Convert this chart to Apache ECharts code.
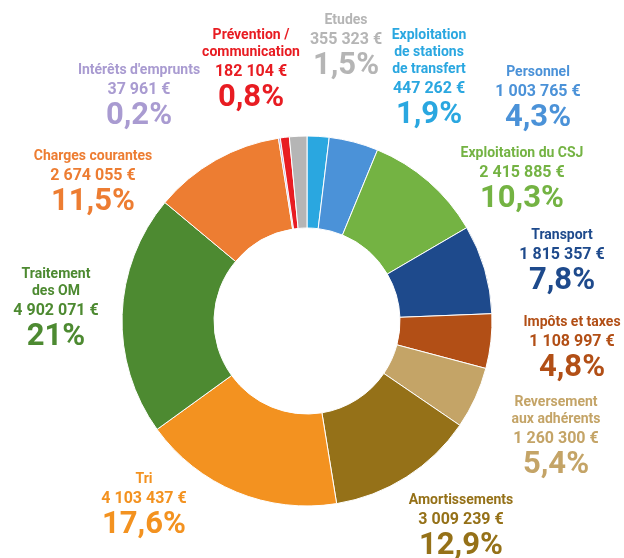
<!DOCTYPE html>
<html>
<head>
<meta charset="utf-8">
<script src="https://cdn.jsdelivr.net/npm/echarts@6/dist/echarts.min.js"></script>
<style>
  html, body { margin: 0; padding: 0; background: #fff; }
  #chart { width: 624px; height: 558px; }
</style>
</head>
<body>
<div id="chart"></div>
<script>
// slices, clockwise from 12 o'clock
const categories = [
  'Exploitation\nde stations\nde transfert',
  'Personnel',
  'Exploitation du CSJ',
  'Transport',
  'Impôts et taxes',
  'Reversement\naux adhérents',
  'Amortissements',
  'Tri',
  'Traitement\ndes OM',
  'Charges courantes',
  "Intérêts d'emprunts",
  'Prévention /\ncommunication',
  'Etudes'
];
const amounts = [447262, 1003765, 2415885, 1815357, 1108997, 1260300, 3009239, 4103437, 4902071, 2674055, 37961, 182104, 355323];
const shares = [1.9, 4.3, 10.3, 7.8, 4.8, 5.4, 12.9, 17.6, 21, 11.5, 0.2, 0.8, 1.5];

const colors = ['#2aa7e0', '#4b92d8', '#74b343', '#1e4a8c', '#b24f16', '#c4a467', '#957118', '#f39220', '#4d8a31', '#ed7d32', '#a99bd1', '#e81c22', '#b5b5b5'];
// label block: [center x, top y]
const labelPos = [
  [429, 27], [538, 64], [522, 145], [562, 227], [572, 314], [556, 394], [461, 492],
  [144, 471], [56, 266], [93, 148], [139, 62], [251, 27], [346, 12]
];

const fmtAmount = v => String(v).replace(/\B(?=(\d{3})+(?!\d))/g, ' ') + ' €';
const fmtShare = s => String(s).replace('.', ',') + '%';

const font = "Roboto, 'Liberation Sans', sans-serif";

const chart = echarts.init(document.getElementById('chart'));

chart.setOption({
  animation: false,
  backgroundColor: '#fff',
  series: [{
    type: 'pie',
    center: [307, 321],
    radius: [93, 185],
    startAngle: 90,
    clockwise: true,
    avoidLabelOverlap: false,
    itemStyle: { borderColor: '#fff', borderWidth: 1 },
    labelLine: { show: false },
    label: {
      show: true,
      position: 'outside',
      color: 'inherit',
      fontFamily: font,
      fontWeight: 'bold',
      formatter: p => '{n|' + p.name + '}\n{v|' + fmtAmount(amounts[p.dataIndex]) + '}\n{p|' + fmtShare(shares[p.dataIndex]) + '}',
      rich: {
        n: { fontSize: 14, lineHeight: 17, fontFamily: font, fontWeight: 'bold', align: 'center' },
        v: { fontSize: 16, lineHeight: 21, fontFamily: font, fontWeight: 'bold', align: 'center' },
        p: { fontSize: 31, lineHeight: 33, fontFamily: font, fontWeight: 'bold', align: 'center' }
      }
    },
    labelLayout: params => ({
      x: labelPos[params.dataIndex][0],
      y: labelPos[params.dataIndex][1],
      align: 'center',
      verticalAlign: 'top'
    }),
    data: categories.map((name, i) => ({
      name: name,
      value: amounts[i],
      itemStyle: { color: colors[i] }
    }))
  }]
});
</script>
</body>
</html>
